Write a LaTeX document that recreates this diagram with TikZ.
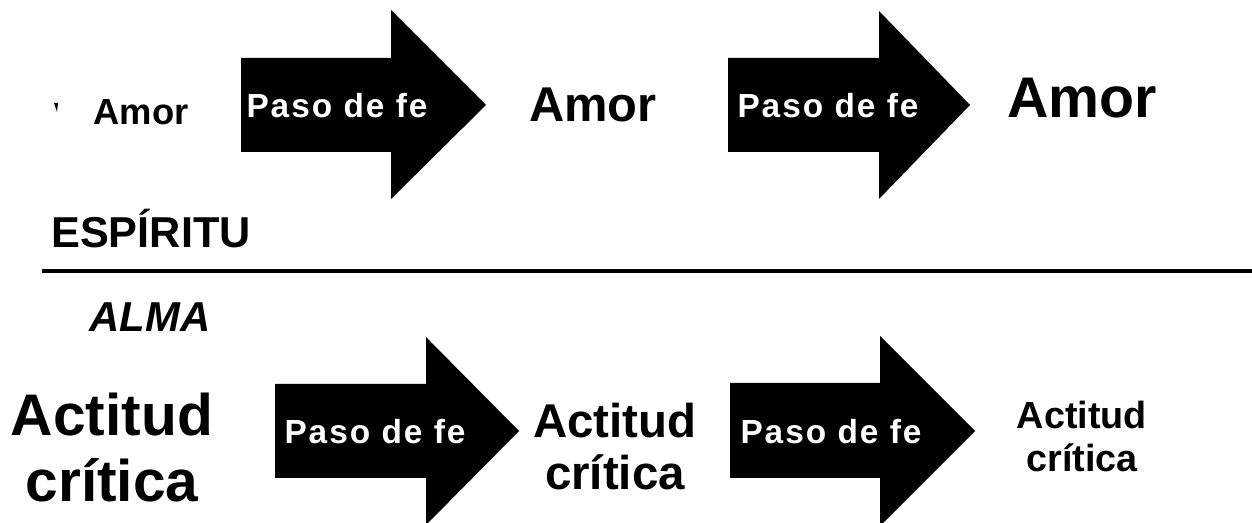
\documentclass[tikz,border=0pt]{standalone}
\usepackage{fontspec}
\setmainfont{Liberation Sans}
\newfontfamily\pasofont[LetterSpace=6]{Liberation Sans}

\begin{document}
\begin{tikzpicture}[x=0.02cm,y=-0.02cm,
	arrowshape/.style={fill=black},
	pasotext/.style={text=white,anchor=base,inner sep=0pt,font=\pasofont\bfseries\fontsize{19}{22}\selectfont},
	word/.style={anchor=base,inner sep=0pt,align=center}]
	\useasboundingbox (0,0) rectangle (1252,523);
	%\draw[red] (0,0) rectangle (1252,523);

	% arrows, top row (espiritu)
	\fill[arrowshape] (241,58) -- (391,58) -- (391,10) -- (486,105) -- (391,199) -- (391,152) -- (241,152) -- cycle;
	\fill[arrowshape] (728,58) -- (879,58) -- (879,11) -- (970,105) -- (879,199) -- (879,152) -- (728,152) -- cycle;
	% arrows, bottom row (alma)
	\fill[arrowshape] (275,384) -- (426,384) -- (426,337) -- (519,431) -- (426,525) -- (426,478) -- (275,478) -- cycle;
	\fill[arrowshape] (730,383) -- (880,383) -- (880,336) -- (975,431) -- (880,526) -- (880,478) -- (730,478) -- cycle;

	\node[pasotext] (PasoA) at (337,118) {Paso de fe};
	\node[pasotext] (PasoB) at (828,118) {Paso de fe};
	\node[pasotext] (PasoC) at (375,444) {Paso de fe};
	\node[pasotext] (PasoD) at (831,444) {Paso de fe};

	% top row
	\fill (54,103) -- (58,103) -- (57,112) -- cycle;
	\node[word,font=\bfseries\fontsize{20.7}{24}\selectfont] (AmorA) at (141,125) {Amor};
	\node[word,font=\bfseries\fontsize{27.8}{32}\selectfont] (AmorB) at (593,122) {Amor};
	\node[word,font=\bfseries\fontsize{32.6}{38}\selectfont] (AmorC) at (1082,118) {Amor};

	% division
	\coordinate (LineMin) at (42,271);
	\coordinate (LineMax) at (1252,271);
	\draw[line width=2.3pt] (LineMin) -- (LineMax);
	\node[word,font=\bfseries\fontsize{24.6}{28}\selectfont] (Espiritu) at (151,248) {ESPÍRITU};
	\node[word,font=\bfseries\itshape\fontsize{23.8}{28}\selectfont] (Alma) at (150,332) {ALMA};

	% bottom row
	\node[word,font=\bfseries\fontsize{33.4}{38}\selectfont] (ActitudA) at (112,502) {Actitud\\crítica};
	\node[word,font=\bfseries\fontsize{27}{30}\selectfont] (ActitudB) at (615,490) {Actitud\\crítica};
	\node[word,font=\bfseries\fontsize{21.5}{25}\selectfont] (ActitudC) at (1082,472) {Actitud\\crítica};
\end{tikzpicture}
\end{document}
